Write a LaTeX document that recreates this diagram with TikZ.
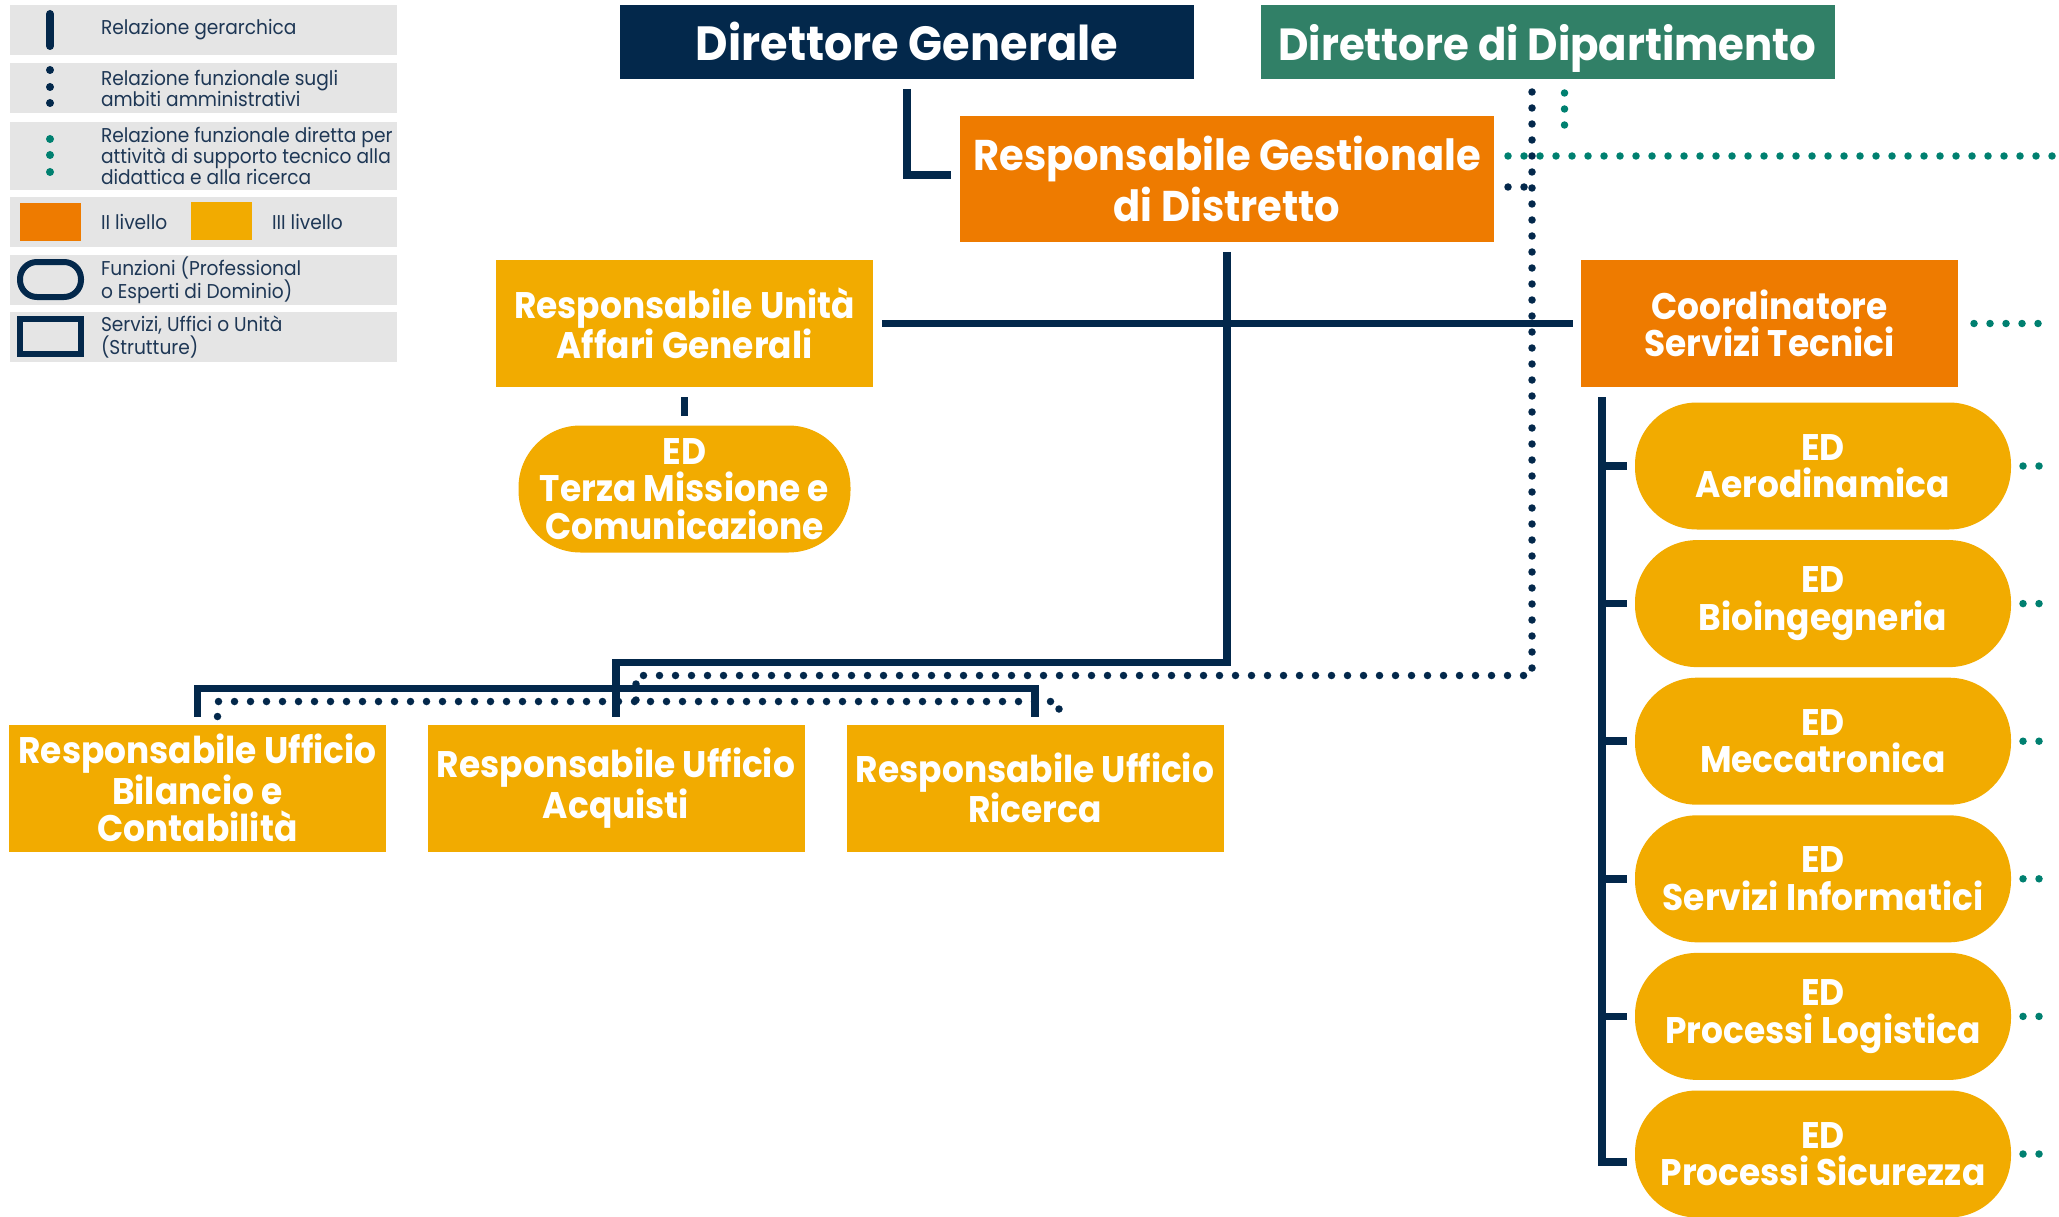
\documentclass[tikz,border=0pt]{standalone}
\usepackage{fontspec}
\setmainfont[FakeStretch=0.93]{Poppins}
\usetikzlibrary{positioning}

\definecolor{navy}{RGB}{3,40,75}
\definecolor{dipgreen}{RGB}{49,128,103}
\definecolor{lvlII}{RGB}{238,123,0}
\definecolor{lvlIII}{RGB}{242,171,0}
\definecolor{techteal}{RGB}{0,128,112}
\definecolor{leggray}{RGB}{229,229,229}
\definecolor{legtext}{RGB}{30,55,85}

\begin{document}
\begin{tikzpicture}
[x=1pt,y=-1pt,
 every node/.style={inner sep=0pt,outer sep=0pt,align=center,text=white,font=\bfseries\fontsize{37}{37.5}\selectfont},
 headbox/.style={rectangle,minimum width=574pt,minimum height=74pt,text height=44pt,text depth=6pt,font=\bfseries\fontsize{48}{55}\selectfont},
 rgdbox/.style={rectangle,fill=lvlII,minimum width=534pt,minimum height=126pt,font=\bfseries\fontsize{43}{51}\selectfont},
 unitbox/.style={rectangle,minimum width=377pt,minimum height=127pt},
 pillbox/.style={rectangle,rounded corners=62pt,fill=lvlIII,minimum width=376pt,minimum height=127pt},
 legtxt/.style={anchor=west,align=left,text=legtext,font=\fontsize{20}{21}\selectfont},
 hier/.style={draw=navy,line width=7.5pt},
 admin/.style={draw=navy,line width=7.5pt,line cap=round,dash pattern=on 0pt off 16pt},
 tech/.style={draw=techteal,line width=7.5pt,line cap=round,dash pattern=on 0pt off 16pt}]
\useasboundingbox (0,0) rectangle (2059,1217);

% legend
\foreach \ya/\yb in {5/55,63/113,122/190,197/247,255/305,312/362}
  \fill[leggray] (10,\ya) rectangle (397,\yb);
\draw[navy,line width=8pt,line cap=round] (50,14) -- (50,46);
\foreach \y in {70,87,103} \fill[navy] (50,\y) circle (4pt);
\foreach \y in {139,155,172} \fill[techteal] (50,\y) circle (4pt);
\fill[lvlII] (20,203) rectangle (81,241);
\fill[lvlIII] (191,202) rectangle (252,240);
\draw[navy,line width=6pt,rounded corners=17pt] (20,262) rectangle (81,297);
\draw[navy,line width=6pt] (20,319) rectangle (81,354);
\node[legtxt] (lg1) at (101,30) {Relazione gerarchica};
\node[legtxt] (lg2) at (101,88) {Relazione funzionale sugli\\ambiti amministrativi};
\node[legtxt] (lg3) at (101,156) {Relazione funzionale diretta per\\attività di supporto tecnico alla\\didattica e alla ricerca};
\node[legtxt] (lg4) at (101,222) {II livello};
\node[legtxt] (lg5) at (272,222) {III livello};
\node[legtxt] (lg6) at (101,280) {Funzioni (Professional\\o Esperti di Dominio)};
\node[legtxt] (lg7) at (101,337) {Servizi, Uffici o Unità\\(Strutture)};

% top of the chart
\node[headbox,fill=navy] (dg) at (907,42) {Direttore Generale};
\node[headbox,fill=dipgreen,font=\bfseries\fontsize{45}{55}\selectfont] (dd) at (1547.5,42) {Direttore di Dipartimento};
\node[rgdbox] (rgd) at (1227,179) {Responsabile Gestionale\\di Distretto};
\node[unitbox,fill=lvlIII] (ruag) at (684.5,323.5) {Responsabile Unità\\Affari Generali};
\node[unitbox,fill=lvlII] (cst) at (1769.5,323.5) {Coordinatore\\Servizi Tecnici};
\node[pillbox,minimum width=332pt] (edtm) [on grid,below=165.5pt of ruag] {ED\\Terza Missione e\\Comunicazione};

% offices
\node[unitbox,fill=lvlIII] (ubil) at (197.5,788) {Responsabile Ufficio\\Bilancio e\\Contabilità};
\node[unitbox,fill=lvlIII] (uacq) [on grid,right=418.5pt of ubil] {Responsabile Ufficio\\Acquisti};
\node[unitbox,fill=lvlIII] (uric) [on grid,right=419pt of uacq] {Responsabile Ufficio\\Ricerca};

% technical experts
\node[pillbox] (ed1) at (1823,466) {ED\\Aerodinamica};
\node[pillbox] (ed2) [on grid,below=137.6pt of ed1] {ED\\Bioingegneria};
\node[pillbox] (ed3) [on grid,below=137.6pt of ed2] {ED\\Meccatronica};
\node[pillbox] (ed4) [on grid,below=137.6pt of ed3] {ED\\Servizi Informatici};
\node[pillbox] (ed5) [on grid,below=137.6pt of ed4] {ED\\Processi Logistica};
\node[pillbox] (ed6) [on grid,below=137.6pt of ed5] {ED\\Processi Sicurezza};

% hierarchy
\draw[hier] ([yshift=-10pt]dg.south) |- ([xshift=-9pt,yshift=4pt]rgd.west);
\draw[hier] ([xshift=9pt]ruag.east) -- ([xshift=-8pt]cst.west);
\draw[hier] ([yshift=-10pt]rgd.south) |- ([yshift=62pt]uacq.north) -- ([yshift=8pt]uacq.north);
\draw[hier] ([yshift=8pt]ubil.north) |- ([yshift=36pt]uric.north) -- ([yshift=8pt]uric.north);
\draw[hier] ([yshift=-10pt]ruag.south) -- ([yshift=10pt]edtm.north);
\coordinate (spine) at ([xshift=21pt,yshift=-10pt]cst.south west);
\draw[hier] (spine) |- ([xshift=-8pt,yshift=-8pt]ed6.west);
\foreach \k in {1,...,5}
  \draw[hier] (spine |- ed\k.west) -- ([xshift=-8pt]ed\k.west);

% administrative links
\coordinate (admtop) at ([xshift=-15.5pt,yshift=-13pt]dd.south);
\coordinate (admbus) at ([xshift=20pt,yshift=49pt]uacq.north);
\draw[admin] (admtop) |- (admbus) -- ([xshift=20pt,yshift=23pt]uacq.north);
\draw[admin] ([xshift=20pt,yshift=8pt]ubil.north) |- ([xshift=24pt,yshift=23pt]uric.north) -- ([xshift=24pt,yshift=8pt]uric.north);
\draw[admin] ([xshift=14pt,yshift=-8pt]rgd.east) -- ([yshift=-8pt]rgd.east -| admtop);

% technical links
\coordinate (rgdout) at (2064,156);
\draw[tech] ([xshift=14pt,yshift=23pt]rgd.east) -- (rgdout);
\draw[tech] ([xshift=17pt,yshift=-14pt]dd.south) -- ([xshift=17pt,yshift=-48pt]dd.south);
\draw[tech] ([xshift=16pt]cst.east) -- ([xshift=81pt]cst.east);
\foreach \k in {1,...,6}
  \draw[tech] ([xshift=12pt]ed\k.east) -- ([xshift=29pt]ed\k.east);
\end{tikzpicture}
\end{document}
